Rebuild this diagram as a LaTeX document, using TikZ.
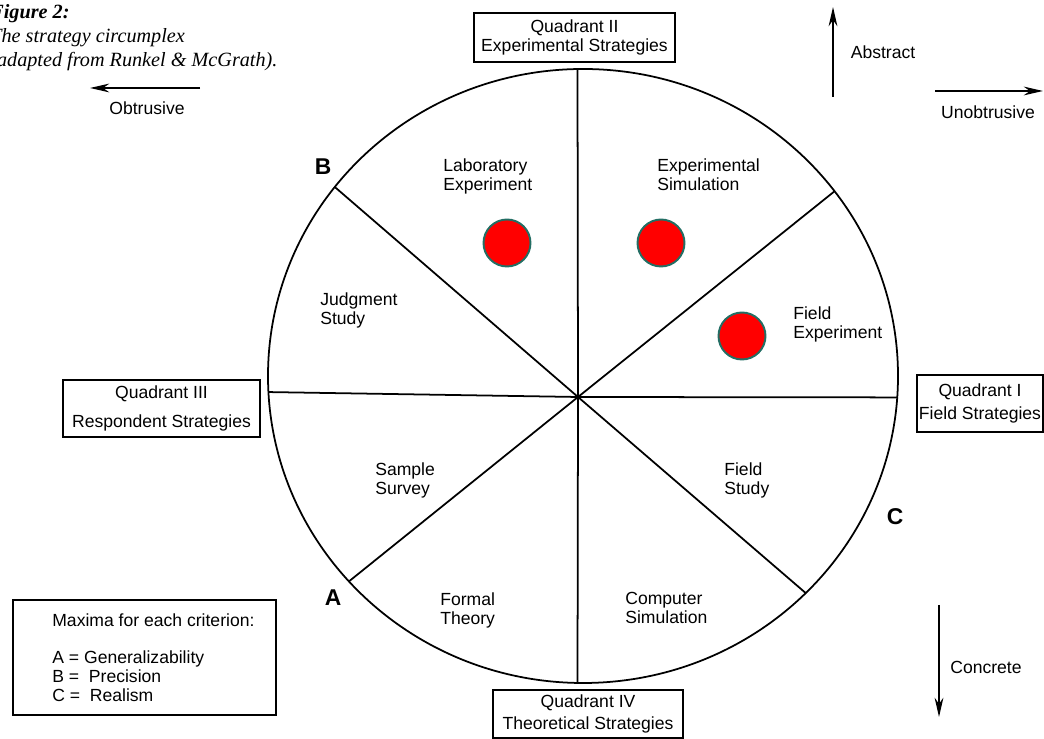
\documentclass[tikz,border=0pt]{standalone}
\usepackage{fontspec}
\setmainfont{Liberation Sans}
\newfontfamily\capfont{Liberation Serif}
\usetikzlibrary{calc, positioning, arrows.meta}
\definecolor{dotrim}{RGB}{35,110,100}
\tikzset{
  font=\fontsize{10}{11}\selectfont,
  % Set arrowhead
  >={Stealth[length=11pt, width=5pt]},
  % Direction arrows
  dirarrow/.style={->, line width=1pt},
  % Quadrant box
  qbox/.style={draw, line width=0.9pt, inner sep=0pt, align=center},
  % Strategy label
  strat/.style={anchor=north west, inner sep=0pt, align=left},
  % Criterion letter
  crit/.style={font=\fontsize{13}{13}\selectfont\bfseries},
  % Red marker
  hit/.style={draw=dotrim, fill=red, shape=circle, line width=1.1pt,
    minimum size=0.94cm, inner sep=0pt},
}
\begin{document}
\begin{tikzpicture}[x=0.02cm, y=0.02cm]
      \useasboundingbox (0,0) rectangle (1044,739);

      % circumplex
      \coordinate (ctr) at (583,363);
      \coordinate (hub) at (578,342);
      \draw[line width=1pt] (ctr) ellipse [x radius=315, y radius=307];
      \foreach \a/\n in {91/sN, 142/sNW, 183/sW, 222/sSW, 269/sS, 315/sSE,
        356/sE, 37/sNE}{
        \coordinate (\n) at ($(ctr)+(\a:315 and 307)$);
        \draw[line width=1pt] (hub) -- (\n);
      }

      % quadrants
      \node[qbox, minimum width=4.02cm, minimum height=0.98cm] (q2) at (574.5,701.5)
        {Quadrant II\\[0.3pt] Experimental Strategies};
      \node[qbox, minimum width=2.52cm, minimum height=1.14cm] (q1) at (980,335.5)
        {Quadrant I\\[2pt] Field Strategies};
      \node[qbox, minimum width=3.94cm, minimum height=1.14cm] (q3) at (161.5,330.5)
        {Quadrant III\\[6pt] Respondent Strategies};
      \node[qbox, minimum width=3.8cm, minimum height=0.96cm] (q4) at (588,25)
        {Quadrant IV\\[1.5pt] Theoretical Strategies};

      % strategies
      \node[strat] (lab) at (443,581) {Laboratory\\Experiment};
      \node[strat] (esim) at (657,581) {Experimental\\Simulation};
      \node[strat] (judg) at (320,447) {Judgment\\Study};
      \node[strat] (fexp) at (793,433) {Field\\Experiment};
      \node[strat] (surv) at (375,277) {Sample\\Survey};
      \node[strat] (fstud) at (724,277) {Field\\Study};
      \node[strat] (theo) at (440,147) {Formal\\Theory};
      \node[strat] (csim) at (625,147) {Computer\\Simulation};

      % maxima
      \node[crit] (maxB) at (323,572) {B};
      \node[crit] (maxA) at (333,141) {A};
      \node[crit] (maxC) at (895,222) {C};

      \node[hit] (hit1) at (507,496) {};
      \node[hit] (hit2) at (661,496) {};
      \node[hit] (hit3) at (742,403) {};

      % directions
      \coordinate (obS) at (200,651);
      \coordinate (obE) at (90,651);
      \draw[dirarrow] (obS) -- (obE);
      \node (obtr) at (147,631) {Obtrusive};
      \coordinate (abS) at (833,642);
      \coordinate (abE) at (833,732);
      \draw[dirarrow] (abS) -- (abE);
      \node (abstr) at (883,687) {Abstract};
      \coordinate (unS) at (935,648);
      \coordinate (unE) at (1043,648);
      \draw[dirarrow] (unS) -- (unE);
      \node (unobtr) at (988,627) {Unobtrusive};
      \coordinate (coS) at (939,134);
      \coordinate (coE) at (939,22);
      \draw[dirarrow] (coS) -- (coE);
      \node (concr) at (986,72) {Concrete};

      % legend and caption
      \node[draw, line width=0.9pt, minimum width=5.26cm, minimum height=2.3cm]
        (legend) at (144.5,81.5) {};
      \node[anchor=north west, inner sep=0pt, align=left,
        font=\fontsize{10}{10.8}\selectfont] (critlist) at (52,126)
        {Maxima for each criterion:\\[10.7pt]
         A = Generalizability\\ B = \ Precision\\ C = \ Realism};
      \node[anchor=north west, inner sep=0pt, align=left,
        font=\capfont\itshape\fontsize{11.5}{13.6}\selectfont] (title) at (-10,735)
        {{\bfseries Figure 2:}\\ The strategy circumplex\\
         (adapted from Runkel \& McGrath).};
\end{tikzpicture}
\end{document}
